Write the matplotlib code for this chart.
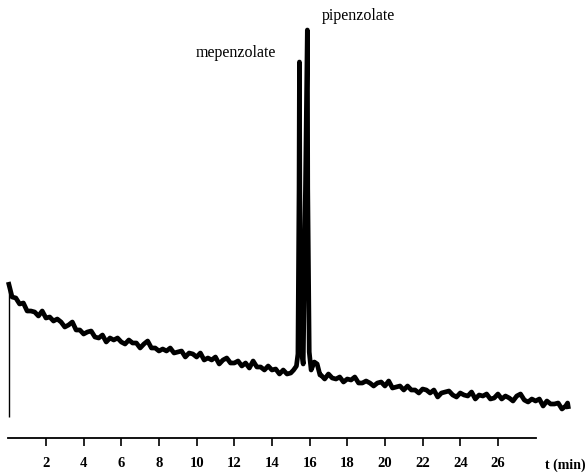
import matplotlib
matplotlib.use("Agg")
from matplotlib import pyplot as plt

# chromatogram trace (time in min, detector signal in arbitrary units)
t = [0.00, 0.20, 0.40, 0.60, 0.80, 1.00, 1.20, 1.40, 1.60, 1.80,
     2.00, 2.20, 2.40, 2.60, 2.80, 3.00, 3.20, 3.40, 3.60, 3.80,
     4.00, 4.20, 4.40, 4.60, 4.80, 5.00, 5.20, 5.40, 5.60, 5.80,
     6.00, 6.20, 6.40, 6.60, 6.80, 7.00, 7.20, 7.40, 7.60, 7.80,
     8.00, 8.20, 8.40, 8.60, 8.80, 9.00, 9.20, 9.40, 9.60, 9.80,
     10.00, 10.20, 10.40, 10.60, 10.80, 11.00, 11.20, 11.40, 11.60, 11.80,
     12.00, 12.20, 12.40, 12.60, 12.80, 13.00, 13.20, 13.40, 13.60, 13.80,
     14.00, 14.20, 14.40, 14.60, 14.80, 15.00, 15.15, 15.30, 15.38,
     15.44, 15.46, 15.48, 15.56, 15.66, 15.78, 15.86, 15.88, 15.90, 15.98,
     16.08, 16.25, 16.40, 16.55,
     16.60, 16.80, 17.00, 17.20, 17.40, 17.60, 17.80, 18.00, 18.20, 18.40,
     18.60, 18.80, 19.00, 19.20, 19.40, 19.60, 19.80, 20.00, 20.20, 20.40,
     20.60, 20.80, 21.00, 21.20, 21.40, 21.60, 21.80, 22.00, 22.20, 22.40,
     22.60, 22.80, 23.00, 23.20, 23.40, 23.60, 23.80, 24.00, 24.20, 24.40,
     24.60, 24.80, 25.00, 25.20, 25.40, 25.60, 25.80, 26.00, 26.20, 26.40,
     26.60, 26.80, 27.00, 27.20, 27.40, 27.60, 27.80, 28.00, 28.20, 28.40,
     28.60, 28.80, 29.00, 29.20, 29.40, 29.60, 29.70, 29.75]
signal = [156, 141, 140, 134, 135, 127, 127, 126, 122, 127,
          120, 121, 117, 119, 116, 111, 113, 116, 108, 108,
          104, 106, 107, 101, 100, 103, 96, 100, 98, 100,
          96, 94, 98, 95, 95, 90, 94, 97, 90, 90,
          87, 89, 87, 90, 85, 86, 87, 81, 85, 84,
          81, 85, 78, 80, 78, 81, 74, 78, 80, 75,
          75, 77, 72, 75, 70, 77, 71, 71, 68, 72,
          68, 69, 64, 68, 64, 65, 68, 72, 84,
          250, 376, 250, 88, 74, 250, 380, 408, 250, 86,
          68, 76, 74, 63,
          63, 59, 64, 60, 59, 61, 56, 59, 58, 61,
          55, 55, 57, 55, 52, 55, 56, 52, 57, 50,
          51, 52, 48, 52, 48, 48, 45, 49, 48, 45,
          48, 41, 45, 46, 47, 43, 41, 45, 43, 42,
          46, 39, 43, 42, 44, 39, 40, 44, 39, 42,
          40, 37, 42, 44, 38, 36, 39, 37, 39, 32,
          37, 34, 34, 35, 29, 32, 35, 29]

ticks = [2, 4, 6, 8, 10, 12, 14, 16, 18, 20, 22, 24, 26]
peak_names = ['mepenzolate', 'pipenzolate']

plt.rcParams['font.family'] = ['Liberation Serif', 'DejaVu Serif']

fig = plt.figure(figsize=(5.87, 4.76), dpi=100)
ax = fig.add_axes([0, 0, 1, 1])

ax.plot(t, signal, color='black', linewidth=3.4, solid_joinstyle='round',
        solid_capstyle='butt')
# marker line at injection
ax.vlines(0.05, 21, 155, color='black', linewidth=1.0)

ax.set_xlim(-0.441, 30.73)
ax.set_ylim(-38, 438)

for s in ['top', 'right', 'left']:
    ax.spines[s].set_visible(False)
ax.spines['bottom'].set_position(('data', 0))
ax.spines['bottom'].set_bounds(0, 28)
ax.spines['bottom'].set_linewidth(1.3)
ax.set_yticks([])
ax.set_xticks(ticks)
ax.set_xticklabels([str(v) for v in ticks])
ax.tick_params(axis='x', direction='out', length=6, width=1.2, pad=8,
               labelsize=10.5)
for lab in ax.get_xticklabels():
    lab.set_fontweight('bold')

ax.text(29.6, -27, 't (min)', fontsize=10, fontweight='bold',
        ha='center', va='center')

ax.text(12.1, 385, peak_names[0], fontsize=11.5, ha='center', va='center')
ax.text(16.65, 422, peak_names[1], fontsize=11.5, ha='left', va='center')

fig.savefig('out.png', dpi=100)
